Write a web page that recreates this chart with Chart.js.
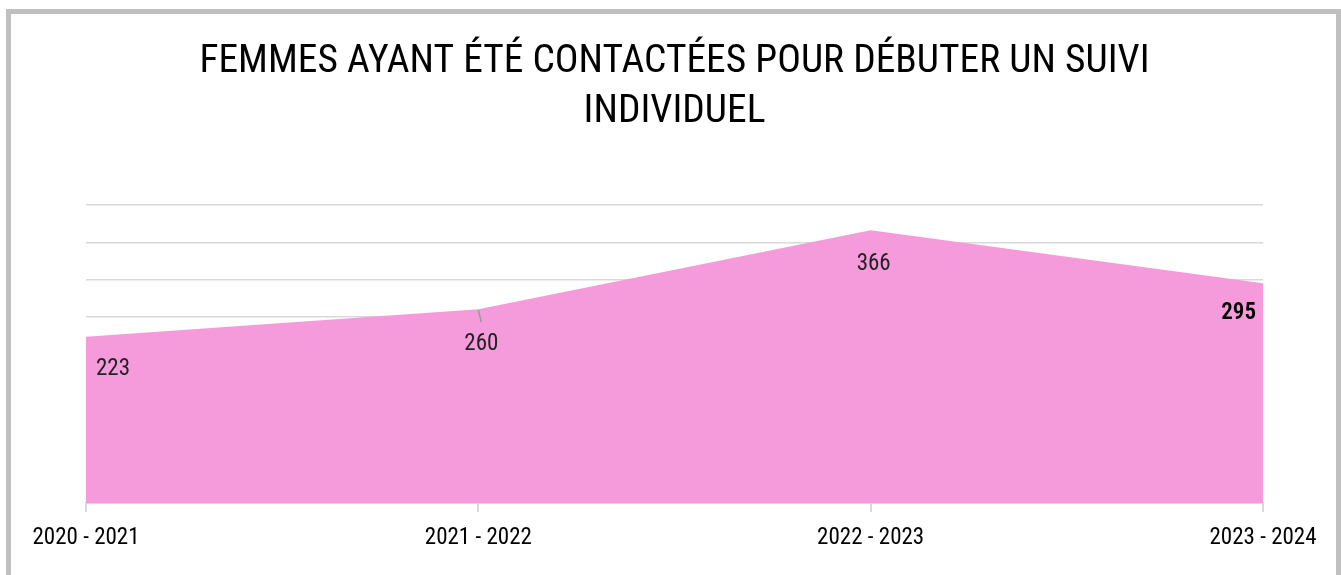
<!DOCTYPE html>
<html lang="fr">
<head>
<meta charset="utf-8">
<title>Femmes contactées</title>
<script src="https://cdn.jsdelivr.net/npm/chart.js@4.4.1/dist/chart.umd.min.js"></script>
<style>
    html, body { margin: 0; padding: 0; background: #fff; overflow: hidden; }
    #box {
        position: absolute;
        left: 6px;
        top: 9px;
        width: 1325px;
        height: 620px;
        border: 5px solid #c0c0c0;
        background: #fff;
    }
    #suiviChart { display: block; }
</style>
</head>
<body>
<div id="box">
    <canvas id="suiviChart" width="1325" height="561"></canvas>
</div>
<script>
const years = ['2020 - 2021', '2021 - 2022', '2022 - 2023', '2023 - 2024'];
const femmesContactees = [223, 260, 366, 295];
const titleLines = ['FEMMES AYANT ÉTÉ CONTACTÉES POUR DÉBUTER UN SUIVI', 'INDIVIDUEL'];

const condensed = "'Roboto Condensed', 'Roboto', sans-serif";

// labels drawn next to each point (offsets from the point)
const labelPlugin = {
    id: 'valueLabels',
    afterDatasetsDraw(chart) {
        const ctx = chart.ctx;
        const meta = chart.getDatasetMeta(0);
        const place = [
            { dx: 10, dy: 32, align: 'left', weight: 'normal', color: '#222' },
            { dx: 3, dy: 35, align: 'center', weight: 'normal', color: '#222' },
            { dx: 3, dy: 34, align: 'center', weight: 'normal', color: '#222' },
            { dx: -7, dy: 30, align: 'right', weight: '600', color: '#000' }
        ];
        ctx.save();
        meta.data.forEach(function (pt, i) {
            const p = place[i];
            // small leader line for the second point
            if (i === 1) {
                ctx.strokeStyle = '#9a9a9a';
                ctx.lineWidth = 1.5;
                ctx.beginPath();
                ctx.moveTo(pt.x, pt.y + 1);
                ctx.lineTo(pt.x + 3, pt.y + 13);
                ctx.stroke();
            }
            ctx.font = p.weight + ' 23px ' + condensed;
            ctx.fillStyle = p.color;
            ctx.textAlign = p.align;
            ctx.textBaseline = 'middle';
            ctx.fillText(String(femmesContactees[i]), pt.x + p.dx, pt.y + p.dy);
        });
        ctx.restore();
    }
};

window.addEventListener('DOMContentLoaded', function () {
    const ctx = document.getElementById('suiviChart').getContext('2d');
    new Chart(ctx, {
        type: 'line',
        data: {
            labels: years,
            datasets: [{
                label: 'Femmes contactées',
                data: femmesContactees,
                fill: 'origin',
                backgroundColor: '#f59bdc',
                borderWidth: 0,
                pointRadius: 0,
                tension: 0
            }]
        },
        options: {
            responsive: false,
            animation: false,
            layout: {
                padding: { left: 75, right: 73, top: 0, bottom: 0 }
            },
            plugins: {
                legend: { display: false },
                tooltip: { enabled: false },
                title: {
                    display: true,
                    text: titleLines,
                    color: '#000',
                    font: { family: condensed, size: 39.5, weight: 'normal', lineHeight: '50px' },
                    padding: { top: 23, bottom: 68 }
                }
            },
            scales: {
                x: {
                    offset: false,
                    grid: {
                        display: true,
                        drawOnChartArea: false,
                        drawTicks: true,
                        tickLength: 9,
                        color: '#d9d9d9',
                        lineWidth: 2
                    },
                    border: { display: true, color: '#d9d9d9', width: 2 },
                    ticks: {
                        color: '#000',
                        padding: 12,
                        maxRotation: 0,
                        autoSkip: false,
                        font: { family: condensed, size: 23 }
                    },
                    afterFit: function (scale) { scale.height = 72; }
                },
                y: {
                    min: 0,
                    max: 400,
                    ticks: { display: false, stepSize: 50 },
                    grid: { color: '#d9d9d9', lineWidth: 1.5, drawTicks: false },
                    border: { display: false }
                }
            }
        },
        plugins: [labelPlugin]
    });
});
</script>
</body>
</html>
